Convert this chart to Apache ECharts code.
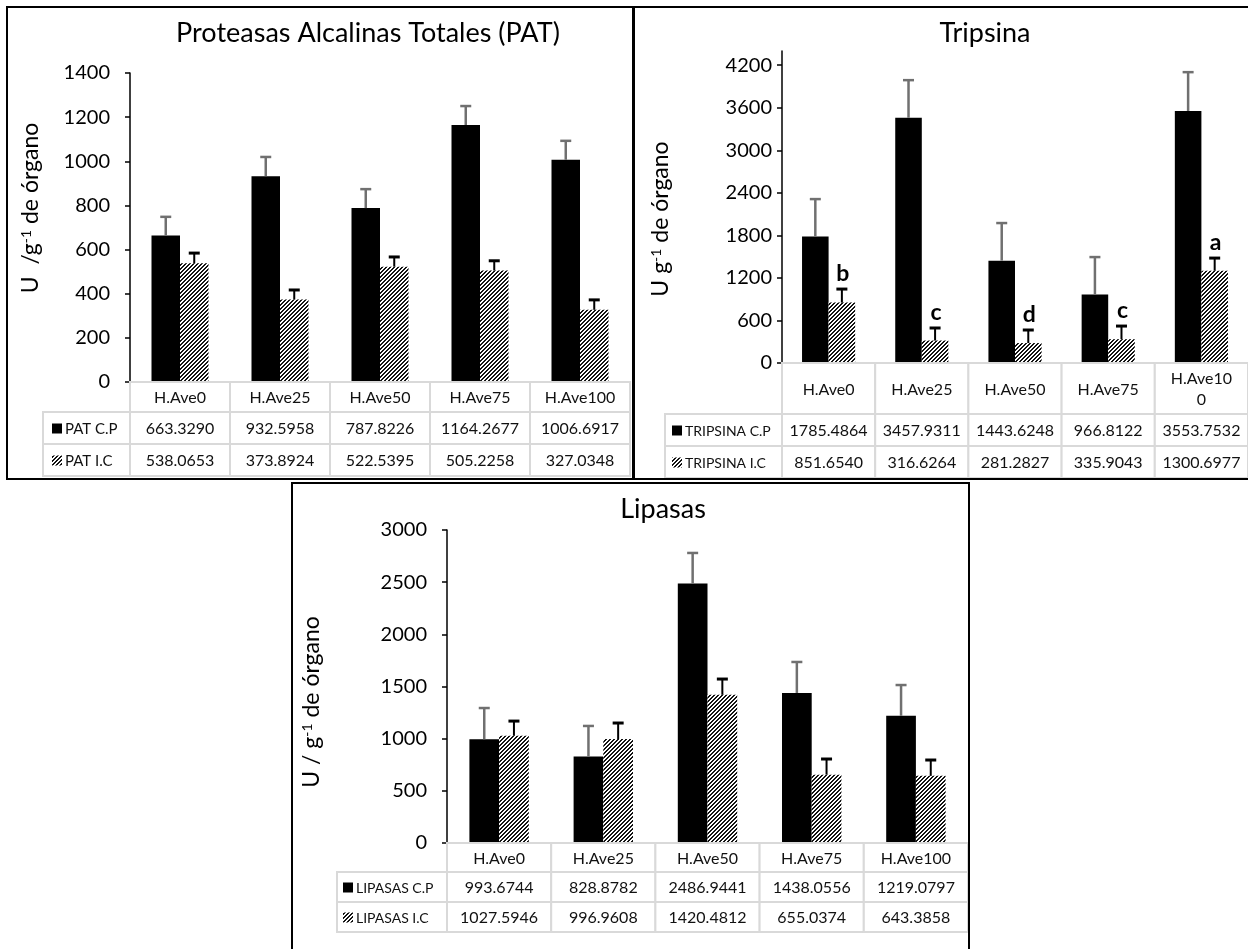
<!DOCTYPE html>
<html><head><meta charset="utf-8">
<script src="https://cdn.jsdelivr.net/npm/echarts@6/dist/echarts.min.js"></script>
<style>html,body{margin:0;padding:0;background:#fff}#c{width:1248px;height:949px}</style>
</head><body><div id="c"></div>
<script>
// ---------------- data ----------------
const categories = ['H.Ave0', 'H.Ave25', 'H.Ave50', 'H.Ave75', 'H.Ave100'];
const patHeaders = ['H.Ave0', 'H.Ave25', 'H.Ave50', 'H.Ave75', 'H.Ave100'];
const tripHeaders = ['H.Ave0', 'H.Ave25', 'H.Ave50', 'H.Ave75', 'H.Ave10\n0'];
const lipHeaders = ['H.Ave0', 'H.Ave25', 'H.Ave50', 'H.Ave75', 'H.Ave100'];

const patCP = [663.3290, 932.5958, 787.8226, 1164.2677, 1006.6917];
const patIC = [538.0653, 373.8924, 522.5395, 505.2258, 327.0348];
const patCPErr = [85, 87, 86, 86, 86];
const patICErr = [46, 43, 44, 44, 45];

const tripCP = [1785.4864, 3457.9311, 1443.6248, 966.8122, 3553.7532];
const tripIC = [851.6540, 316.6264, 281.2827, 335.9043, 1300.6977];
const tripCPErr = [526, 531, 530, 527, 548];
const tripICErr = [191, 177, 184, 185, 179];
const tripLetters = ['b', 'c', 'd', 'c', 'a'];

const lipCP = [993.6744, 828.8782, 2486.9441, 1438.0556, 1219.0797];
const lipIC = [1027.5946, 996.9608, 1420.4812, 655.0374, 643.3858];
const lipCPErr = [300, 293, 293, 297, 295];
const lipICErr = [141, 153, 151, 150, 152];

const patTicks = [0, 200, 400, 600, 800, 1000, 1200, 1400];
const tripTicks = [0, 600, 1200, 1800, 2400, 3000, 3600, 4200];
const lipTicks = [0, 500, 1000, 1500, 2000, 2500, 3000];

const patRowNames = ['PAT C.P', 'PAT I.C'];
const tripRowNames = ['TRIPSINA C.P', 'TRIPSINA I.C'];
const lipRowNames = ['LIPASAS C.P', 'LIPASAS I.C'];

// ---------------- styles ----------------
const FONT = 'Lato';
const GAP = 0.43;
const GRID_LINE = '#d9d9d9';

function makeHatch() {
  const c = document.createElement('canvas');
  c.width = 8; c.height = 8;
  const ctx = c.getContext('2d');
  const img = ctx.createImageData(8, 8);
  for (let y = 0; y < 8; y++) for (let x = 0; x < 8; x++) {
    const i = (y * 8 + x) * 4;
    const v = ((x + y) % 4) < 2 ? 20 : 255;
    img.data[i] = v; img.data[i + 1] = v; img.data[i + 2] = v; img.data[i + 3] = 255;
  }
  ctx.putImageData(img, 0, 0);
  return c;
}
const hatch = { image: makeHatch(), repeat: 'repeat' };

function errSeries(g, vals, errs, side, color, stemW, capW, letters) {
  return {
    type: 'custom', xAxisIndex: g, yAxisIndex: g, z: 5, silent: true,
    data: vals.map((v, i) => [i, v, v + errs[i]]),
    renderItem(params, api) {
      const i = api.value(0);
      const base = api.coord([i, api.value(1)]);
      const top = api.coord([i, api.value(2)]);
      const band = api.size([1, 0])[0];
      const bw = band * (1 - GAP) / 2;
      const x = base[0] + side * bw / 2;
      const ch = [
        { type: 'line', shape: { x1: x, y1: base[1], x2: x, y2: top[1] }, style: { stroke: color, lineWidth: stemW } },
        { type: 'line', shape: { x1: x - 5.5, y1: top[1], x2: x + 5.5, y2: top[1] }, style: { stroke: color, lineWidth: capW } }
      ];
      if (letters) {
        ch.push({ type: 'text', x: x + 1, y: top[1] - 4, style: { text: letters[i], font: 'bold 23px ' + FONT, fill: '#000', align: 'center', verticalAlign: 'bottom' } });
      }
      return { type: 'group', children: ch };
    }
  };
}

function tableSeries(g, headers, rowNames, cp, ic, L) {
  return {
    type: 'custom', xAxisIndex: g, yAxisIndex: g, z: 6, silent: true,
    data: categories.map((c, i) => [i, 0]),
    renderItem(params, api) {
      const i = api.value(0);
      const p = api.coord([i, 0]);
      const band = api.size([1, 0])[0];
      const x0 = p[0] - band / 2;
      const y0 = p[1];
      const y1 = y0 + L.hdrH, y2 = y1 + L.rowH, y3 = y2 + L.rowH;
      const cellStyle = { fill: '#fff', stroke: GRID_LINE, lineWidth: 2 };
      const txt = (t, cx, cy, align, fs) => ({ type: 'text', x: cx, y: cy, style: { text: t, font: (fs || L.fs) + 'px ' + FONT, fill: '#111', align: align || 'center', verticalAlign: 'middle', lineHeight: 21 } });
      const ch = [
        { type: 'rect', shape: { x: x0, y: y0, width: band, height: L.hdrH }, style: cellStyle },
        { type: 'rect', shape: { x: x0, y: y1, width: band, height: L.rowH }, style: cellStyle },
        { type: 'rect', shape: { x: x0, y: y2, width: band, height: L.rowH }, style: cellStyle },
        txt(headers[i], p[0], (y0 + y1) / 2 + 1),
        txt(cp[i].toFixed(4), p[0], (y1 + y2) / 2 + 1),
        txt(ic[i].toFixed(4), p[0], (y2 + y3) / 2 + 1)
      ];
      if (i === 0) {
        const hx = x0 - L.headW;
        ch.push(
          { type: 'rect', shape: { x: hx, y: y1, width: L.headW, height: L.rowH }, style: cellStyle },
          { type: 'rect', shape: { x: hx, y: y2, width: L.headW, height: L.rowH }, style: cellStyle },
          { type: 'rect', shape: { x: hx + L.pad, y: (y1 + y2) / 2 - 4.5, width: 10, height: 10 }, style: { fill: '#000' } },
          { type: 'rect', shape: { x: hx + L.pad, y: (y2 + y3) / 2 - 4.5, width: 10, height: 10 }, style: { fill: hatch } },
          txt(rowNames[0], hx + L.pad + 13, (y1 + y2) / 2 + 1, 'left', L.hfs),
          txt(rowNames[1], hx + L.pad + 13, (y2 + y3) / 2 + 1, 'left', L.hfs)
        );
      }
      return { type: 'group', children: ch };
    }
  };
}

const grids = [
  { left: 130, top: 73, width: 500, height: 309 },
  { left: 782, top: 51, width: 475, height: 312 },
  { left: 447, top: 530, width: 521, height: 313 }
];
const yMax = [1400, 4400, 3000];
const yInt = [200, 600, 500];
const yTicks = [patTicks, tripTicks, lipTicks];
const yMargin = [20, 10, 20];

const chart = echarts.init(document.getElementById('c'), null, { renderer: 'canvas' });
const option = {
  animation: false,
  backgroundColor: '#fff',
  grid: grids,
  xAxis: grids.map((g, i) => ({
    type: 'category', gridIndex: i, data: categories,
    axisLine: { show: false }, axisTick: { show: false }, axisLabel: { show: false }, splitLine: { show: false }
  })),
  yAxis: grids.map((g, i) => ({
    type: 'value', gridIndex: i, min: 0, max: yMax[i], interval: yInt[i],
    axisLine: { show: true, lineStyle: { color: '#000', width: 1.5 } },
    axisTick: { show: true, length: 5, lineStyle: { color: '#000', width: 1.5 }, customValues: yTicks[i] },
    axisLabel: { fontFamily: FONT, fontSize: 20, color: '#000', margin: yMargin[i], customValues: yTicks[i], formatter: v => String(v) },
    splitLine: { show: false }
  })),
  series: [
    { type: 'bar', xAxisIndex: 0, yAxisIndex: 0, data: patCP, barGap: '0%', barCategoryGap: '43%', itemStyle: { color: '#000' } },
    { type: 'bar', xAxisIndex: 0, yAxisIndex: 0, data: patIC, barGap: '0%', barCategoryGap: '43%', itemStyle: { color: hatch } },
    errSeries(0, patCP, patCPErr, -1, '#707070', 2.5, 2.5),
    errSeries(0, patIC, patICErr, 1, '#000', 2, 3),
    tableSeries(0, patHeaders, patRowNames, patCP, patIC, { hdrH: 30, rowH: 32, headW: 87, pad: 9, fs: 16, hfs: 15 }),

    { type: 'bar', xAxisIndex: 1, yAxisIndex: 1, data: tripCP, barGap: '0%', barCategoryGap: '43%', itemStyle: { color: '#000' } },
    { type: 'bar', xAxisIndex: 1, yAxisIndex: 1, data: tripIC, barGap: '0%', barCategoryGap: '43%', itemStyle: { color: hatch } },
    errSeries(1, tripCP, tripCPErr, -1, '#707070', 2.5, 2.5),
    errSeries(1, tripIC, tripICErr, 1, '#000', 2, 3, tripLetters),
    tableSeries(1, tripHeaders, tripRowNames, tripCP, tripIC, { hdrH: 51, rowH: 32, headW: 117, pad: 7, fs: 16, hfs: 14 }),

    { type: 'bar', xAxisIndex: 2, yAxisIndex: 2, data: lipCP, barGap: '0%', barCategoryGap: '43%', itemStyle: { color: '#000' } },
    { type: 'bar', xAxisIndex: 2, yAxisIndex: 2, data: lipIC, barGap: '0%', barCategoryGap: '43%', itemStyle: { color: hatch } },
    errSeries(2, lipCP, lipCPErr, -1, '#707070', 2.5, 2.5),
    errSeries(2, lipIC, lipICErr, 1, '#000', 2, 3),
    tableSeries(2, lipHeaders, lipRowNames, lipCP, lipIC, { hdrH: 29, rowH: 30, headW: 110, pad: 6, fs: 16, hfs: 14 })
  ],
  graphic: [
    { type: 'rect', shape: { x: 7, y: 7, width: 626, height: 472 }, style: { fill: 'none', stroke: '#000', lineWidth: 2 }, z: 100 },
    { type: 'line', shape: { x1: 633, y1: 7, x2: 1250, y2: 7 }, style: { stroke: '#000', lineWidth: 2 }, z: 100 },
    { type: 'line', shape: { x1: 633, y1: 479, x2: 1250, y2: 479 }, style: { stroke: '#000', lineWidth: 2 }, z: 100 },
    { type: 'line', shape: { x1: 634, y1: 7, x2: 634, y2: 479 }, style: { stroke: '#000', lineWidth: 2 }, z: 100 },
    { type: 'rect', shape: { x: 292, y: 483, width: 677, height: 490 }, style: { fill: 'none', stroke: '#000', lineWidth: 2 }, z: 100 },
    { type: 'text', x: 368, y: 33, style: { text: 'Proteasas Alcalinas Totales (PAT)', font: '27px ' + FONT, fill: '#000', align: 'center', verticalAlign: 'middle' } },
    { type: 'text', x: 985, y: 33, style: { text: 'Tripsina', font: '27px ' + FONT, fill: '#000', align: 'center', verticalAlign: 'middle' } },
    { type: 'text', x: 663, y: 509, style: { text: 'Lipasas', font: '27px ' + FONT, fill: '#000', align: 'center', verticalAlign: 'middle' } },
    { type: 'text', x: 31, y: 208, rotation: Math.PI / 2, style: { text: '{n|U  /g}{s|-1}{n| de órgano}', rich: { n: { font: '23px ' + FONT, fill: '#000' }, s: { font: '14px ' + FONT, fill: '#000', verticalAlign: 'top' } }, align: 'center', verticalAlign: 'middle' } },
    { type: 'text', x: 661, y: 219, rotation: Math.PI / 2, style: { text: '{n|U g}{s|-1}{n| de órgano}', rich: { n: { font: '23px ' + FONT, fill: '#000' }, s: { font: '14px ' + FONT, fill: '#000', verticalAlign: 'top' } }, align: 'center', verticalAlign: 'middle' } },
    { type: 'text', x: 312, y: 702, rotation: Math.PI / 2, style: { text: '{n|U / g}{s|-1}{n| de órgano}', rich: { n: { font: '23px ' + FONT, fill: '#000' }, s: { font: '14px ' + FONT, fill: '#000', verticalAlign: 'top' } }, align: 'center', verticalAlign: 'middle' } }
  ]
};
chart.setOption(option);
</script>
</body></html>
